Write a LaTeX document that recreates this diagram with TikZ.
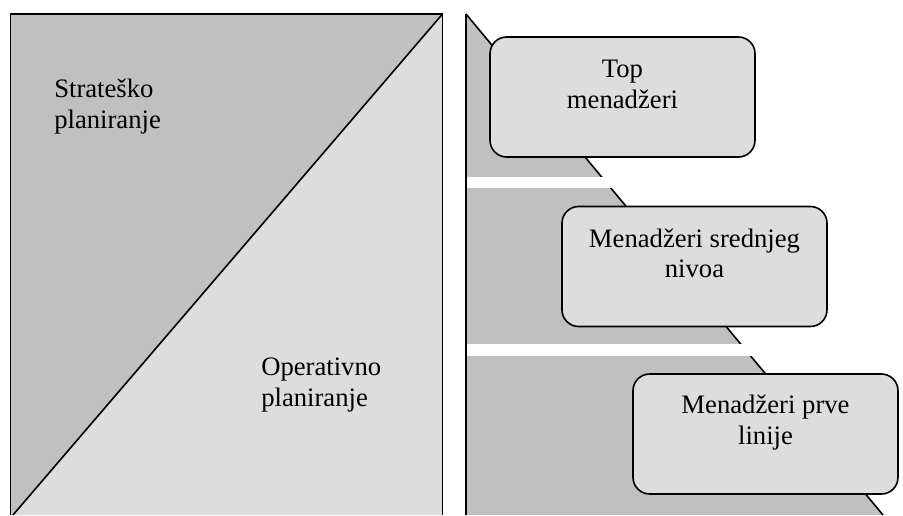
\documentclass[tikz,border=0pt]{standalone}
\usepackage{fontspec}
\setmainfont{Liberation Serif}
\usepackage{tikz}
\definecolor{darkish}{RGB}{192, 192, 192}
\definecolor{lightish}{RGB}{221, 221, 221}
\usetikzlibrary{positioning}
\tikzset{
  plan_txt/.style = {align=left, inner sep=0pt, anchor=north west,
    font=\fontsize{20pt}{23pt}\selectfont},% tekst planiranja
  mgr_box/.style = {draw, line width=1.2pt, fill=lightish, rounded corners=12.5pt,
    minimum width=198.75pt, minimum height=90pt, inner sep=0pt},% okvir, nivo menadzera
  mgr_txt/.style = {align=center, inner sep=0pt,
    font=\fontsize{20pt}{23pt}\selectfont},% tekst u okviru
  edge/.style = {line width=1.2pt, line join=miter},
}

\begin{document}
\begin{tikzpicture}[x=0.75pt, y=0.75pt]
\useasboundingbox (0,0) rectangle (903,515);
% planiranje
\coordinate (ptl) at (10.5,501);
\coordinate (ptr) at (442.5,501);
\coordinate (pbl) at (10.5,0);
\coordinate (pbr) at (442.5,0);
\coordinate (pdg) at (13,0);
\fill [darkish] (ptl) -- (ptr) -- (pdg) -- (pbl) -- cycle;
\fill [lightish] (ptr) -- (pbr) -- (pdg) -- cycle;
\draw [edge] (pbl) -- (ptl) -- (ptr) -- (pbr);
\draw [edge] (ptr) -- (pdg);
\node [plan_txt] (strat) at (54,436) {Strateško\\planiranje};
\node [plan_txt] (oper) at (261,157) {Operativno\\planiranje};
% piramida menadzera
\coordinate (mtop) at (466,501);
\coordinate (mbot) at (466,0);
\coordinate (mend) at (883,0);
\fill [darkish] (mtop) -- (mend) -- (mbot) -- cycle;
\draw [edge] (mtop) -- (mend);
\fill [white] (467,327) rectangle (640,338);
\fill [white] (467,159) rectangle (780,171);
\draw [edge] (mbot) -- (mtop);
\node [mgr_box] (topm) at (622.5,418) {};
\node [mgr_box] (midm) at (694.5,248.5) {};
\node [mgr_box] (lowm) at (765.5,81) {};
\node [mgr_txt, below=18pt of topm.north] (topt) {Top\\menadžeri};
\node [mgr_txt, below=17pt of midm.north] (midt) {Menadžeri srednjeg\\nivoa};
\node [mgr_txt, below=16pt of lowm.north] (lowt) {Menadžeri prve\\linije};
\end{tikzpicture}
\end{document}
